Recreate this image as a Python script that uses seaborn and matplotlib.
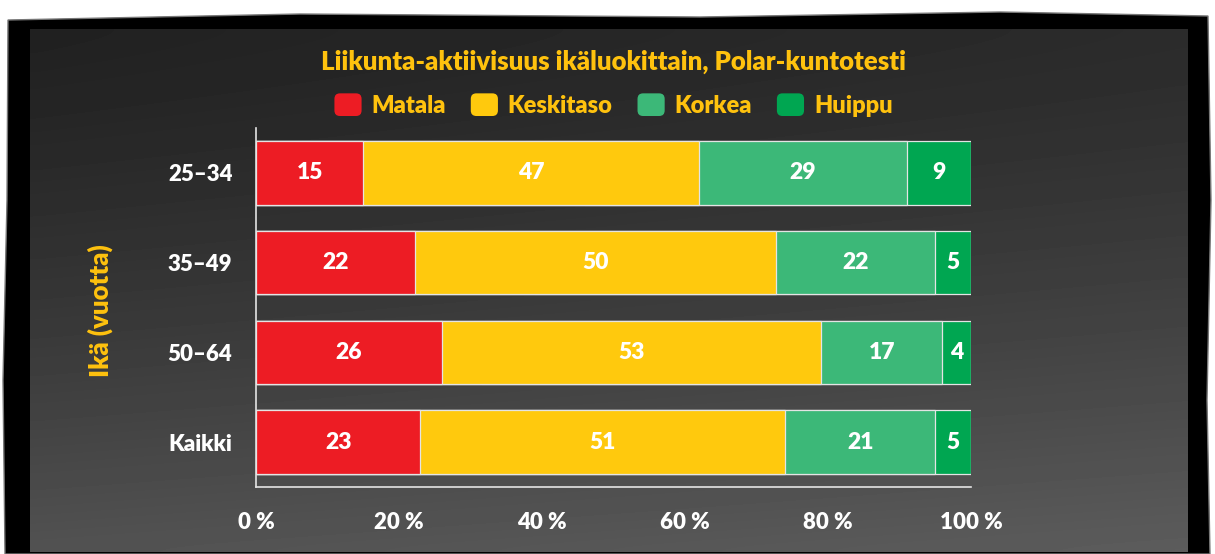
import numpy as np
import pandas as pd
import seaborn as sns
import matplotlib.pyplot as plt
from matplotlib.patches import FancyBboxPatch, Patch, Polygon
from matplotlib.legend_handler import HandlerPatch

# values
age_groups = ['25–34', '35–49', '50–64', 'Kaikki']
levels = ['Matala', 'Keskitaso', 'Korkea', 'Huippu']
matala = [15, 22, 26, 23]
keskitaso = [47, 50, 53, 51]
korkea = [29, 22, 17, 21]
huippu = [9, 5, 4, 5]
level_colors = ['#ED1C24', '#FFC90D', '#3CB878', '#00A651']
x_ticks = [0, 20, 40, 60, 80, 100]
x_tick_labels = ['0 %', '20 %', '40 %', '60 %', '80 %', '100 %']

TITLE = 'Liikunta-aktiivisuus ikäluokittain, Polar-kuntotesti'
Y_LABEL = 'Ikä (vuotta)'
YELLOW = '#FFC20E'
EDGE = '#e4e4e4'
WEIGHT = 'heavy'

W, H = 1215, 554


class RoundedSquareHandler(HandlerPatch):
    def create_artists(self, legend, orig_handle, xdescent, ydescent,
                       width, height, fontsize, trans):
        box = FancyBboxPatch((-xdescent, -ydescent), width, height,
                             boxstyle='round,pad=0,rounding_size=4',
                             facecolor=orig_handle.get_facecolor(),
                             edgecolor='none', transform=trans)
        return [box]


def draw_background(fig):
    bg = fig.add_axes([0, 0, 1, 1], zorder=0)
    bg.set_xlim(0, W)
    bg.set_ylim(H, 0)
    bg.axis('off')
    # black torn-paper frame
    frame = Polygon([(8, 20), (300, 14), (700, 17), (1000, 12), (1208, 16),
                     (1211, 200), (1207, 400), (1210, 554), (5, 554),
                     (3, 380), (7, 200)],
                    closed=True, facecolor='black', edgecolor='#777777', lw=1.0)
    bg.add_patch(frame)
    # dark chalkboard area, lighter towards the bottom
    yy, xx = np.mgrid[0:1:60j, 0:1:120j]
    shade = 0.13 + 0.19 * yy ** 1.3 + 0.04 * xx
    bg.imshow(shade, cmap='gray', vmin=0, vmax=1, aspect='auto',
              extent=(30, 1188, 552, 29), interpolation='bicubic', zorder=2)


def main():
    sns.set_style('white')
    plt.rcParams['font.family'] = ['Lato', 'DejaVu Sans']
    plt.rcParams['font.weight'] = WEIGHT

    fig = plt.figure(figsize=(W / 100, H / 100), dpi=100, facecolor='white')
    draw_background(fig)

    ax = fig.add_axes([256 / W, 1 - 487 / H, 715 / W, 359 / H], zorder=1)
    ax.set_facecolor('none')

    df = pd.DataFrame({'Matala': matala, 'Keskitaso': keskitaso,
                       'Korkea': korkea, 'Huippu': huippu}, index=age_groups)
    # 100 % stacked: rows are scaled so every bar fills the axis
    shares = df.div(df.sum(axis=1), axis=0) * 100
    cum = shares.cumsum(axis=1)
    cum_long = cum.rename_axis('ika').reset_index()

    # layered bars: longest cumulative first, shorter ones on top
    for level, color in reversed(list(zip(levels, level_colors))):
        sns.barplot(data=cum_long, x=level, y='ika', orient='h', color=color,
                    saturation=1, width=0.71, edgecolor=EDGE, linewidth=0.9,
                    errorbar=None, ax=ax)

    for level in levels:
        for i, group in enumerate(age_groups):
            ax.text(cum.loc[group, level] - shares.loc[group, level] / 2, i,
                    str(df.loc[group, level]), ha='center', va='center',
                    color='white', fontsize=16.5, fontweight=WEIGHT)

    ax.set_xlim(0, 100)
    ax.set_ylim(3.5, -0.5)
    ax.set_xticks(x_ticks, x_tick_labels)
    ax.set_xlabel('')
    ax.set_ylabel(Y_LABEL, color=YELLOW, fontsize=18.5, fontweight=WEIGHT, va='center')
    ax.yaxis.set_label_coords(-0.218, 0.49)

    ax.tick_params(axis='x', direction='in', length=6.5, width=1, color=EDGE,
                   labelcolor='white', labelsize=16, pad=18)
    ax.tick_params(axis='y', length=0, labelcolor='white', labelsize=16, pad=17)
    for side in ['top', 'right']:
        ax.spines[side].set_visible(False)
    for side in ['left', 'bottom']:
        ax.spines[side].set_color(EDGE)
        ax.spines[side].set_linewidth(1.2)

    ax.set_title(TITLE, color=YELLOW, fontsize=18.5, fontweight=WEIGHT, pad=42)

    handles = [Patch(facecolor=c, label=l) for l, c in zip(levels, level_colors)]
    ax.legend(handles=handles, loc='center', bbox_to_anchor=(0.5, 1.064),
              ncol=4, frameon=False, handlelength=1.15, handleheight=1.1,
              handletextpad=0.42, columnspacing=1.05, labelcolor=YELLOW,
              prop={'size': 17, 'weight': WEIGHT},
              handler_map={Patch: RoundedSquareHandler()})

    fig.savefig('out.png', dpi=100)


if __name__ == '__main__':
    main()
